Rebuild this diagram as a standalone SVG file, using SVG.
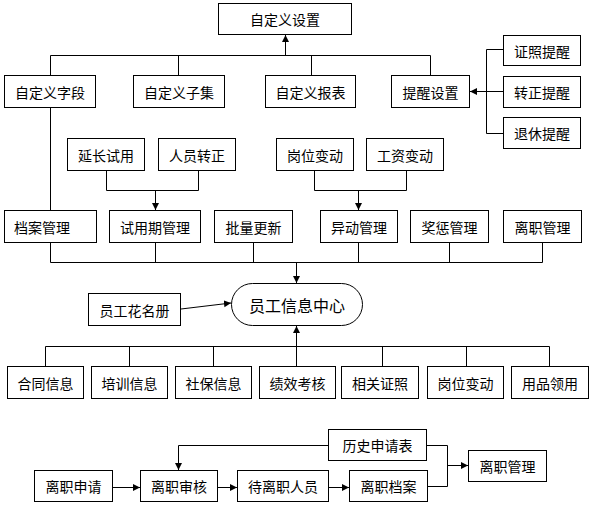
<svg xmlns="http://www.w3.org/2000/svg" width="595" height="505" viewBox="0 0 595 505">
<style>
rect{fill:#fff;stroke:#000;stroke-width:1}
text{font-family:"Noto Sans CJK SC","Noto Sans CJK JP",sans-serif;font-size:14px;fill:#000;text-anchor:middle;dominant-baseline:central}
.c path{fill:none;stroke:#000;stroke-width:1}
.big{font-size:16px}
</style>
<defs>
<marker id="a" markerUnits="userSpaceOnUse" markerWidth="8" markerHeight="8" refX="7" refY="3.5" orient="auto">
<path d="M0,0 L7,3.5 L0,7 z" fill="#000"/>
</marker>
</defs>
<g class="c" id="connectors">
<path d="M50.5,75 V55.5 H430.5 V75"/>
<path d="M178.5,55.5 V75"/>
<path d="M311.5,55.5 V75"/>
<path d="M285.5,55.5 V35" marker-end="url(#a)"/>
<path d="M503,49.5 H486.5 V133.5 H503"/>
<path d="M503,91.5 H470" marker-end="url(#a)"/>
<path d="M50.5,107 V210"/>
<path d="M106.5,170 V190.5 H198.5 V170"/>
<path d="M155.5,190.5 V210" marker-end="url(#a)"/>
<path d="M314.5,170 V190.5 H406.5 V170"/>
<path d="M358.5,190.5 V210" marker-end="url(#a)"/>
<path d="M50.5,243 V262.5 H542.5 V243"/>
<path d="M155.5,243 V262.5"/>
<path d="M253.5,243 V262.5"/>
<path d="M358.5,243 V262.5"/>
<path d="M449.5,243 V262.5"/>
<path d="M296.5,262.5 V283" marker-end="url(#a)"/>
<path d="M181,309 L231,303" marker-end="url(#a)"/>
<path d="M296.5,346.5 V326" marker-end="url(#a)"/>
<path d="M45.5,367 V346.5 H549.5 V367"/>
<path d="M129.5,346.5 V367"/>
<path d="M213.5,346.5 V367"/>
<path d="M296.5,346.5 V367"/>
<path d="M382.5,346.5 V367"/>
<path d="M466.5,346.5 V367"/>
<path d="M113,487.5 H140" marker-end="url(#a)"/>
<path d="M218,487.5 H237" marker-end="url(#a)"/>
<path d="M329,487.5 H349" marker-end="url(#a)"/>
<path d="M328,445.5 H178.5 V470" marker-end="url(#a)"/>
<path d="M427,445.5 H447.5 V486.5 H428"/>
<path d="M447.5,465.5 H468" marker-end="url(#a)"/>
</g>
<g id="n1"><rect x="218.5" y="3.5" width="133" height="31"/><text x="285" y="19">自定义设置</text></g>
<g id="n2"><rect x="4.5" y="75.5" width="91" height="32"/><text x="50" y="91.5">自定义字段</text></g>
<g id="n3"><rect x="133.5" y="75.5" width="91" height="32"/><text x="179" y="91.5">自定义子集</text></g>
<g id="n4"><rect x="265.5" y="75.5" width="90" height="32"/><text x="310.5" y="91.5">自定义报表</text></g>
<g id="n5"><rect x="391.5" y="75.5" width="78" height="32"/><text x="430.5" y="91.5">提醒设置</text></g>
<g id="n6"><rect x="503.5" y="35.5" width="77" height="30"/><text x="542" y="50.5">证照提醒</text></g>
<g id="n7"><rect x="503.5" y="76.5" width="77" height="31"/><text x="542" y="92">转正提醒</text></g>
<g id="n8"><rect x="503.5" y="117.5" width="77" height="31"/><text x="542" y="133">退休提醒</text></g>
<g id="n9"><rect x="67.5" y="138.5" width="77" height="32"/><text x="106" y="154.5">延长试用</text></g>
<g id="n10"><rect x="158.5" y="138.5" width="77" height="32"/><text x="197" y="154.5">人员转正</text></g>
<g id="n11"><rect x="276.5" y="138.5" width="77" height="32"/><text x="315" y="154.5">岗位变动</text></g>
<g id="n12"><rect x="366.5" y="138.5" width="77" height="32"/><text x="405" y="154.5">工资变动</text></g>
<g id="n13"><rect x="4.5" y="210.5" width="92" height="32"/><text x="42" y="226.5">档案管理</text></g>
<g id="n14"><rect x="109.5" y="210.5" width="91" height="32"/><text x="155" y="226.5">试用期管理</text></g>
<g id="n15"><rect x="214.5" y="210.5" width="78" height="32"/><text x="253.5" y="226.5">批量更新</text></g>
<g id="n16"><rect x="320.5" y="210.5" width="77" height="32"/><text x="359" y="226.5">异动管理</text></g>
<g id="n17"><rect x="410.5" y="210.5" width="78" height="32"/><text x="449.5" y="226.5">奖惩管理</text></g>
<g id="n18"><rect x="503.5" y="210.5" width="78" height="32"/><text x="542.5" y="226.5">离职管理</text></g>
<g id="n19"><rect x="88.5" y="293.5" width="92" height="32"/><text x="134.5" y="309.5">员工花名册</text></g>
<g id="n20"><rect x="231.5" y="283.5" width="131" height="42" rx="21" ry="21"/><text class="big" x="297" y="304.5">员工信息中心</text></g>
<g id="n21"><rect x="7.5" y="366.5" width="76" height="32"/><text x="45.5" y="382.5">合同信息</text></g>
<g id="n22"><rect x="91.5" y="366.5" width="76" height="32"/><text x="129.5" y="382.5">培训信息</text></g>
<g id="n23"><rect x="175.5" y="366.5" width="76" height="32"/><text x="213.5" y="382.5">社保信息</text></g>
<g id="n24"><rect x="259.5" y="366.5" width="76" height="32"/><text x="297.5" y="382.5">绩效考核</text></g>
<g id="n25"><rect x="341.5" y="366.5" width="77" height="32"/><text x="380" y="382.5">相关证照</text></g>
<g id="n26"><rect x="427.5" y="366.5" width="76" height="32"/><text x="465.5" y="382.5">岗位变动</text></g>
<g id="n27"><rect x="511.5" y="366.5" width="77" height="32"/><text x="550" y="382.5">用品领用</text></g>
<g id="n28"><rect x="34.5" y="470.5" width="78" height="31"/><text x="73.5" y="486">离职申请</text></g>
<g id="n29"><rect x="140.5" y="470.5" width="77" height="31"/><text x="179" y="486">离职审核</text></g>
<g id="n30"><rect x="237.5" y="470.5" width="91" height="31"/><text x="283" y="486">待离职人员</text></g>
<g id="n31"><rect x="349.5" y="470.5" width="78" height="31"/><text x="388.5" y="486">离职档案</text></g>
<g id="n32"><rect x="328.5" y="429.5" width="98" height="31"/><text x="377.5" y="445">历史申请表</text></g>
<g id="n33"><rect x="468.5" y="450.5" width="78" height="31"/><text x="507.5" y="466">离职管理</text></g>
</svg>
